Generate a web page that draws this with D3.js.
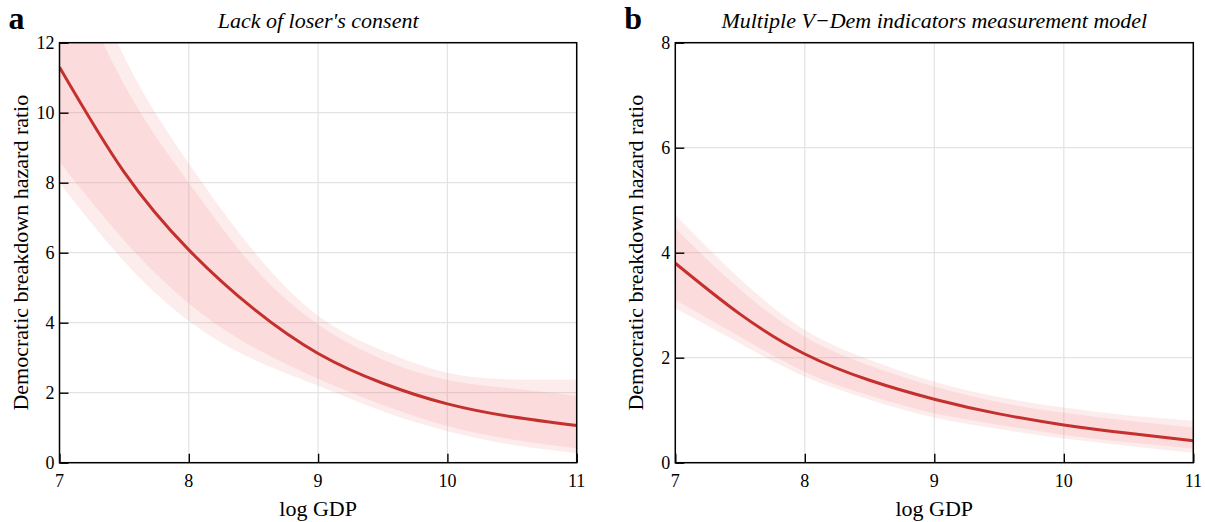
<!DOCTYPE html>
<html>
<head>
<meta charset="utf-8">
<script src="https://cdn.jsdelivr.net/npm/d3@7"></script>
<style>
  body { margin: 0; background: #fff; }
  text { font-family: "Liberation Serif", "DejaVu Serif", serif; fill: #000; }
</style>
</head>
<body>
<svg id="chart" width="1205" height="522"></svg>
<script>
// log GDP grid the estimates were read at
const logGdp = [7, 7.5, 8, 8.5, 9, 9.5, 10, 10.5, 11];

// panel a: lack of loser's consent
const aMid      = [11.3, 8.3, 6.08, 4.4, 3.12, 2.27, 1.68, 1.31, 1.06];
const aInnerHi  = [14.8, 10.8, 8.0, 5.6, 3.95, 2.95, 2.36, 2.12, 1.91];
const aInnerLo  = [8.6, 6.35, 4.55, 3.3, 2.4, 1.65, 1.05, 0.66, 0.41];
const aOuterHi  = [16.0, 11.6, 8.55, 6.05, 4.2, 3.2, 2.57, 2.38, 2.38];
const aOuterLo  = [8.0, 5.75, 4.05, 2.95, 2.2, 1.47, 0.9, 0.51, 0.27];

// panel b: multiple V-Dem indicators measurement model
const bMid      = [3.80, 2.83, 2.07, 1.57, 1.21, 0.93, 0.72, 0.56, 0.42];
const bInnerHi  = [4.46, 3.3, 2.40, 1.85, 1.45, 1.15, 0.95, 0.80, 0.67];
const bInnerLo  = [3.10, 2.4, 1.73, 1.28, 0.94, 0.72, 0.53, 0.39, 0.27];
const bOuterHi  = [4.72, 3.5, 2.53, 1.96, 1.54, 1.25, 1.05, 0.90, 0.80];
const bOuterLo  = [2.94, 2.27, 1.64, 1.2, 0.86, 0.64, 0.46, 0.32, 0.19];

const xTicks = [7, 8, 9, 10, 11];
const aYTicks = [0, 2, 4, 6, 8, 10, 12];
const bYTicks = [0, 2, 4, 6, 8];

const svg = d3.select("#chart");
const plotTop = 42.7, plotBottom = 462.7;

function drawPanel(opts) {
    const { left, right, yMax, yTicks, mid, innerHi, innerLo, outerHi, outerLo, letter, title, id } = opts;

    const x = d3.scaleLinear().domain([7, 11]).range([left, right]);
    const y = d3.scaleLinear().domain([0, yMax]).range([plotBottom, plotTop]);

    const g = svg.append("g");

    g.append("clipPath").attr("id", id)
        .append("rect")
        .attr("x", left).attr("y", plotTop)
        .attr("width", right - left).attr("height", plotBottom - plotTop);

    // grid
    g.append("g")
        .selectAll("line")
        .data(xTicks)
        .join("line")
        .attr("x1", d => x(d)).attr("x2", d => x(d))
        .attr("y1", plotTop).attr("y2", plotBottom)
        .attr("stroke", "#e3e3e3").attr("stroke-width", 1.2);
    g.append("g")
        .selectAll("line")
        .data(yTicks)
        .join("line")
        .attr("x1", left).attr("x2", right)
        .attr("y1", d => y(d)).attr("y2", d => y(d))
        .attr("stroke", "#e3e3e3").attr("stroke-width", 1.2);

    const rows = logGdp.map((v, i) => ({
        x: v, mid: mid[i], ih: innerHi[i], il: innerLo[i], oh: outerHi[i], ol: outerLo[i]
    }));

    const clip = g.append("g").attr("clip-path", `url(#${id})`);

    // outer band
    clip.append("path")
        .datum(rows)
        .attr("fill", "#f08080").attr("fill-opacity", 0.15)
        .attr("d", d3.area().curve(d3.curveNatural)
            .x(d => x(d.x)).y0(d => y(d.ol)).y1(d => y(d.oh)));

    // inner band
    clip.append("path")
        .datum(rows)
        .attr("fill", "#f08080").attr("fill-opacity", 0.15)
        .attr("d", d3.area().curve(d3.curveNatural)
            .x(d => x(d.x)).y0(d => y(d.il)).y1(d => y(d.ih)));

    // estimate
    clip.append("path")
        .datum(rows)
        .attr("fill", "none")
        .attr("stroke", "#c3302d")
        .attr("stroke-width", 3)
        .attr("d", d3.line().curve(d3.curveNatural)
            .x(d => x(d.x)).y(d => y(d.mid)));

    // axes, ticks pointing inward
    const yAxis = g.append("g")
        .attr("transform", `translate(${left},0)`)
        .call(d3.axisRight(y).tickValues(yTicks).tickSize(9).tickFormat(""));
    yAxis.select(".domain").remove();
    yAxis.selectAll("line").attr("stroke", "#000").attr("stroke-width", 1.4);

    const xAxis = g.append("g")
        .attr("transform", `translate(0,${plotBottom})`)
        .call(d3.axisTop(x).tickValues(xTicks).tickSize(9).tickFormat(""));
    xAxis.select(".domain").remove();
    xAxis.selectAll("line").attr("stroke", "#000").attr("stroke-width", 1.4);

    g.selectAll("text.ylab")
        .data(yTicks)
        .join("text")
        .attr("class", "ylab")
        .attr("x", left - 5)
        .attr("y", d => y(d))
        .attr("dy", "0.33em")
        .attr("text-anchor", "end")
        .style("font-size", "18px")
        .text(d => d);

    g.selectAll("text.xlab")
        .data(xTicks)
        .join("text")
        .attr("class", "xlab")
        .attr("x", d => x(d))
        .attr("y", plotBottom + 24)
        .attr("text-anchor", "middle")
        .style("font-size", "18px")
        .text(d => d);

    // frame
    g.append("rect")
        .attr("x", left).attr("y", plotTop)
        .attr("width", right - left).attr("height", plotBottom - plotTop)
        .attr("fill", "none").attr("stroke", "#000").attr("stroke-width", 1.5);

    // labels
    g.append("text")
        .attr("x", (left + right) / 2)
        .attr("y", 516)
        .attr("text-anchor", "middle")
        .style("font-size", "22px")
        .text("log GDP");

    g.append("text")
        .attr("transform", `translate(${left - 32},${(plotTop + plotBottom) / 2}) rotate(-90)`)
        .attr("text-anchor", "middle")
        .style("font-size", "22px")
        .text("Democratic breakdown hazard ratio");

    g.append("text")
        .attr("x", (left + right) / 2)
        .attr("y", 28)
        .attr("text-anchor", "middle")
        .style("font-size", "22px")
        .style("font-style", "italic")
        .text(title);

    g.append("text")
        .attr("x", left - 51)
        .attr("y", 29)
        .style("font-size", "32px")
        .style("font-weight", "bold")
        .text(letter);
}

drawPanel({
    id: "clipA", left: 59.5, right: 576.7, yMax: 12, yTicks: aYTicks,
    mid: aMid, innerHi: aInnerHi, innerLo: aInnerLo, outerHi: aOuterHi, outerLo: aOuterLo,
    letter: "a", title: "Lack of loser's consent"
});

drawPanel({
    id: "clipB", left: 675.3, right: 1193.3, yMax: 8, yTicks: bYTicks,
    mid: bMid, innerHi: bInnerHi, innerLo: bInnerLo, outerHi: bOuterHi, outerLo: bOuterLo,
    letter: "b", title: "Multiple V\u2212Dem indicators measurement model"
});
</script>
</body>
</html>
